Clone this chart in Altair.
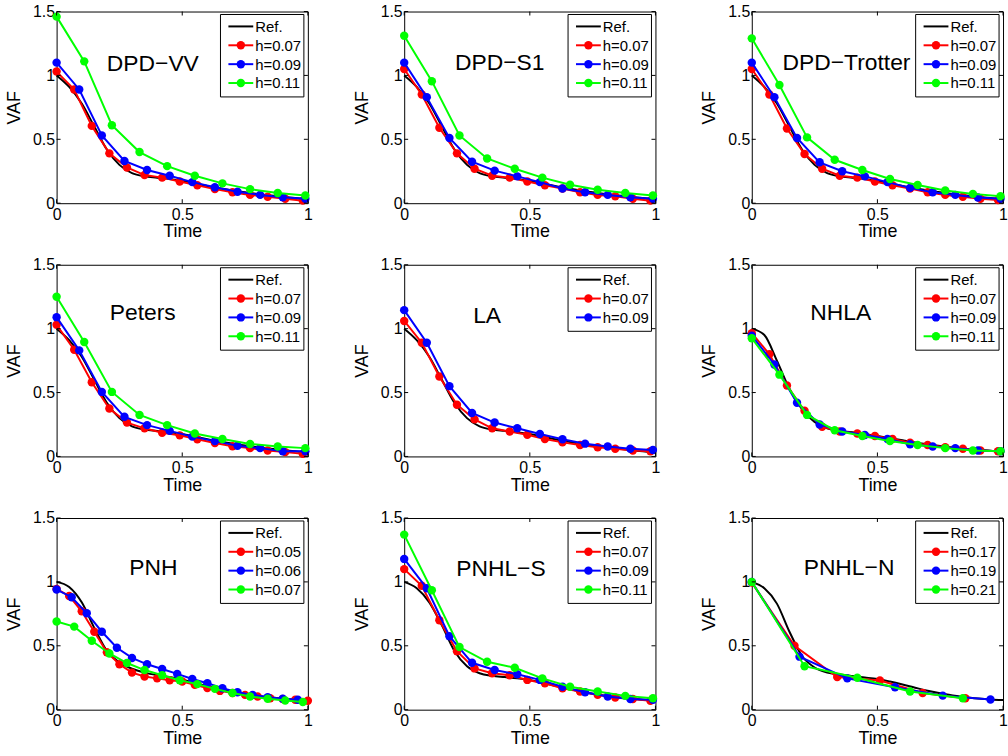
import altair as alt
import numpy as np
import pandas as pd

# ---------------- data ----------------
REF_STEP = 0.05
REF_DPD = [1.00, 0.91, 0.78, 0.60, 0.42, 0.30, 0.235, 0.21, 0.20, 0.19, 0.175,
           0.155, 0.135, 0.117, 0.10, 0.085, 0.072, 0.06, 0.05, 0.04, 0.03]
REF_NHLA = [1.00, 0.95, 0.75, 0.53, 0.37, 0.27, 0.22, 0.20, 0.19, 0.175, 0.16,
            0.143, 0.127, 0.11, 0.095, 0.082, 0.07, 0.06, 0.052, 0.045, 0.04]
REF_PNH = [1.00, 0.96, 0.84, 0.64, 0.46, 0.37, 0.32, 0.29, 0.27, 0.255, 0.235,
           0.21, 0.185, 0.162, 0.142, 0.125, 0.11, 0.097, 0.087, 0.078, 0.07]
REF_PNHLS = [1.00, 0.95, 0.84, 0.66, 0.46, 0.34, 0.285, 0.265, 0.255, 0.245, 0.232,
             0.21, 0.188, 0.165, 0.143, 0.125, 0.11, 0.097, 0.087, 0.078, 0.07]
REF_PNHLN = [1.00, 0.95, 0.83, 0.61, 0.42, 0.33, 0.29, 0.275, 0.263, 0.252, 0.24,
             0.22, 0.197, 0.172, 0.148, 0.128, 0.112, 0.098, 0.088, 0.08, 0.075]

DPDVV_R = [1.03, 0.89, 0.605, 0.39, 0.28, 0.22, 0.20, 0.17, 0.14, 0.11, 0.085, 0.065, 0.05, 0.035, 0.02]
DPDVV_B = [1.10, 0.89, 0.53, 0.33, 0.26, 0.215, 0.165, 0.125, 0.09, 0.065, 0.047, 0.035]
DPDVV_G = [1.46, 1.11, 0.61, 0.40, 0.29, 0.215, 0.155, 0.11, 0.08, 0.06]

DPDS1_R = [1.05, 0.85, 0.59, 0.39, 0.27, 0.215, 0.20, 0.17, 0.14, 0.115, 0.085, 0.065, 0.055, 0.035, 0.02]
DPDS1_B = [1.10, 0.83, 0.51, 0.325, 0.255, 0.21, 0.165, 0.115, 0.085, 0.065, 0.047, 0.035]
DPDS1_G = [1.31, 0.955, 0.53, 0.35, 0.27, 0.20, 0.145, 0.105, 0.08, 0.06]

DPDTR_R = [1.05, 0.85, 0.585, 0.385, 0.27, 0.215, 0.20, 0.17, 0.14, 0.115, 0.085, 0.065, 0.05, 0.035, 0.025]
DPDTR_B = [1.10, 0.83, 0.51, 0.32, 0.25, 0.21, 0.165, 0.12, 0.085, 0.065, 0.045, 0.035]
DPDTR_G = [1.29, 0.925, 0.515, 0.34, 0.26, 0.19, 0.143, 0.10, 0.073, 0.055]

PETERS_R = [1.03, 0.835, 0.58, 0.375, 0.265, 0.22, 0.185, 0.165, 0.135, 0.105, 0.08, 0.065, 0.047, 0.034, 0.02]
PETERS_B = [1.09, 0.83, 0.505, 0.31, 0.245, 0.20, 0.155, 0.12, 0.083, 0.065, 0.04, 0.04]
PETERS_G = [1.25, 0.895, 0.505, 0.325, 0.245, 0.18, 0.137, 0.098, 0.078, 0.065]

LA_R = [1.06, 0.89, 0.625, 0.405, 0.29, 0.22, 0.195, 0.17, 0.137, 0.11, 0.09, 0.072, 0.06, 0.047, 0.04]
LA_B = [1.145, 0.89, 0.55, 0.34, 0.265, 0.22, 0.175, 0.135, 0.10, 0.078, 0.06, 0.05]

NHLA_R = [0.965, 0.80, 0.555, 0.357, 0.233, 0.195, 0.18, 0.16, 0.137, 0.108, 0.09, 0.072, 0.06, 0.047, 0.04]
NHLA_B = [0.945, 0.72, 0.42, 0.25, 0.195, 0.168, 0.137, 0.095, 0.078, 0.065, 0.047, 0.04]
NHLA_G = [0.925, 0.64, 0.325, 0.205, 0.16, 0.12, 0.09, 0.065, 0.047, 0.04]

PNH_R = [0.945, 0.89, 0.77, 0.61, 0.45, 0.355, 0.29, 0.26, 0.245, 0.23, 0.22, 0.195, 0.17,
         0.147, 0.13, 0.116, 0.103, 0.09, 0.083, 0.078, 0.07]
PNH_B = [0.94, 0.88, 0.755, 0.61, 0.485, 0.405, 0.355, 0.318, 0.28, 0.24, 0.207, 0.168,
         0.137, 0.116, 0.098, 0.085, 0.078]
PNH_G = [0.69, 0.65, 0.54, 0.44, 0.365, 0.31, 0.27, 0.23, 0.20, 0.163, 0.13, 0.103, 0.085, 0.072, 0.06]

PNHLS_R = [1.10, 0.97, 0.70, 0.458, 0.323, 0.285, 0.27, 0.233, 0.207, 0.168, 0.142, 0.116, 0.096, 0.083, 0.07]
PNHLS_B = [1.18, 0.95, 0.575, 0.367, 0.31, 0.277, 0.233, 0.18, 0.137, 0.103, 0.083, 0.078]
PNHLS_G = [1.37, 0.935, 0.49, 0.375, 0.328, 0.245, 0.18, 0.142, 0.108, 0.09]

PNHLN_R = [0.995, 0.50, 0.255, 0.228, 0.13, 0.09]
PNHLN_B = [1.0, 0.415, 0.245, 0.175, 0.11, 0.08]
PNHLN_G = [1.0, 0.34, 0.25, 0.142, 0.09]

PANELS = [
    dict(name="DPD\u2212VV", steps=[0.07, 0.09, 0.11], series=[DPDVV_R, DPDVV_B, DPDVV_G], ref=REF_DPD, at=(0.383, 1.09)),
    dict(name="DPD\u2212S1", steps=[0.07, 0.09, 0.11], series=[DPDS1_R, DPDS1_B, DPDS1_G], ref=REF_DPD, at=(0.38, 1.10)),
    dict(name="DPD\u2212Trotter", steps=[0.07, 0.09, 0.11], series=[DPDTR_R, DPDTR_B, DPDTR_G], ref=REF_DPD, at=(0.377, 1.10)),
    dict(name="Peters", steps=[0.07, 0.09, 0.11], series=[PETERS_R, PETERS_B, PETERS_G], ref=REF_DPD, at=(0.343, 1.12)),
    dict(name="LA", steps=[0.07, 0.09], series=[LA_R, LA_B], ref=REF_DPD, at=(0.33, 1.10)),
    dict(name="NHLA", steps=[0.07, 0.09, 0.11], series=[NHLA_R, NHLA_B, NHLA_G], ref=REF_NHLA, at=(0.354, 1.12)),
    dict(name="PNH", steps=[0.05, 0.06, 0.07], series=[PNH_R, PNH_B, PNH_G], ref=REF_PNH, at=(0.385, 1.11)),
    dict(name="PNHL\u2212S", steps=[0.07, 0.09, 0.11], series=[PNHLS_R, PNHLS_B, PNHLS_G], ref=REF_PNHLS, at=(0.385, 1.10)),
    dict(name="PNHL\u2212N", steps=[0.17, 0.19, 0.21], series=[PNHLN_R, PNHLN_B, PNHLN_G], ref=REF_PNHLN, at=(0.387, 1.11)),
]

X_TICKS = [0, 0.5, 1]
Y_TICKS = [0, 0.5, 1, 1.5]
COLORS = ["#000000", "#ff0000", "#0000ff", "#00ff00"]

# ---------------- styling ----------------
FONT = "Liberation Sans"
W, H = 253, 193
TICK = 4
# legend box geometry (pixels inside the plot area)
LG_RIGHT, LG_TOP, LG_W, LG_ROW, LG_PAD = W - 4, 3, 84, 19, 2.5
SYM_X0, SYM_X1 = LG_RIGHT - 76, LG_RIGHT - 51
LAB_X = LG_RIGHT - 49


def panel(p):
    labels = ["h=%g" % h for h in p["steps"]]
    dom = ["Ref."] + labels
    rng = COLORS[:len(dom)]
    cscale = alt.Scale(domain=dom, range=rng)
    xs = alt.Scale(domain=[0, 1], nice=False, zero=False)
    ys = alt.Scale(domain=[0, 1.5], nice=False, zero=False)
    xaxis = alt.Axis(values=X_TICKS, format="~g", title="Time", ticks=False, grid=False, domain=False,
                     labelFlush=False, labelOverlap=False, labelPadding=3, titlePadding=1)
    yaxis = alt.Axis(values=Y_TICKS, format="~g", title="VAF", ticks=False, grid=False, domain=False,
                     labelOverlap=False, labelPadding=2, titlePadding=9)
    xenc = alt.X("t:Q", scale=xs, axis=xaxis)
    yenc = alt.Y("v:Q", scale=ys, axis=yaxis)
    cenc = alt.Color("series:N", scale=cscale, legend=None)

    layers = []
    ref_df = pd.DataFrame({"t": np.round(np.arange(len(p["ref"])) * REF_STEP, 4),
                           "v": p["ref"], "series": "Ref."})
    layers.append(alt.Chart(ref_df).mark_line(strokeWidth=2, interpolate="monotone", clip=False)
                  .encode(xenc, yenc, cenc))
    for lab, h, vals in zip(labels, p["steps"], p["series"]):
        df = pd.DataFrame({"t": np.round(np.arange(len(vals)) * h, 4), "v": vals, "series": lab})
        base = alt.Chart(df).encode(xenc, yenc, cenc)
        layers.append(base.mark_line(strokeWidth=2, clip=False))
        layers.append(base.mark_point(filled=True, size=72, opacity=1, strokeWidth=0, clip=False))

    # inward ticks on all four sides (MATLAB style)
    xt = pd.DataFrame({"t": X_TICKS})
    yt = pd.DataFrame({"v": Y_TICKS})
    rule = dict(color="black", strokeWidth=1)
    layers.append(alt.Chart(xt).mark_rule(**rule).encode(xenc, y=alt.value(H), y2=alt.value(H - TICK)))
    layers.append(alt.Chart(xt).mark_rule(**rule).encode(xenc, y=alt.value(0), y2=alt.value(TICK)))
    layers.append(alt.Chart(yt).mark_rule(**rule).encode(yenc, x=alt.value(0), x2=alt.value(TICK)))
    layers.append(alt.Chart(yt).mark_rule(**rule).encode(yenc, x=alt.value(W), x2=alt.value(W - TICK)))

    # method name
    tdf = pd.DataFrame({"t": [p["at"][0]], "v": [p["at"][1]], "label": [p["name"]]})
    layers.append(alt.Chart(tdf).mark_text(font=FONT, fontSize=23, color="black", align="center",
                                           baseline="middle")
                  .encode(xenc, yenc, text="label:N"))

    # legend (boxed, top right, inside the axes)
    n = len(dom)
    box_h = 2 * LG_PAD + 12 * 2 - 5 + LG_ROW * (n - 1) + 2
    ldf = pd.DataFrame({"series": dom})
    layers.append(alt.Chart(ldf.head(1)).mark_rect(fill="white", stroke="black", strokeWidth=1)
                  .encode(x=alt.value(LG_RIGHT - LG_W), x2=alt.value(LG_RIGHT),
                          y=alt.value(LG_TOP), y2=alt.value(LG_TOP + box_h)))
    for i, lab in enumerate(dom):
        yc = LG_TOP + 12 + LG_ROW * i
        one = pd.DataFrame({"series": [lab]})
        layers.append(alt.Chart(one).mark_rule(strokeWidth=2)
                      .encode(x=alt.value(SYM_X0), x2=alt.value(SYM_X1), y=alt.value(yc), color=cenc))
        if i > 0:
            layers.append(alt.Chart(one).mark_point(filled=True, size=72, opacity=1, strokeWidth=0)
                          .encode(x=alt.value((SYM_X0 + SYM_X1) / 2), y=alt.value(yc), color=cenc))
        layers.append(alt.Chart(one).mark_text(font=FONT, fontSize=15, color="black", align="left",
                                               baseline="middle")
                      .encode(x=alt.value(LAB_X), y=alt.value(yc + 0.5), text="series:N"))
    return alt.layer(*layers).properties(width=W, height=H)


rows = []
for r in range(3):
    rows.append(alt.hconcat(*[panel(PANELS[3 * r + c]) for c in range(3)], spacing=40)
                .resolve_scale(color="independent"))

chart = (alt.vconcat(*rows, spacing=14)
         .resolve_scale(color="independent")
         .properties(padding={"left": 5, "top": 0, "right": 0, "bottom": 0}, background="white")
         .configure_view(stroke="black", strokeWidth=1)
         .configure_axis(labelFont=FONT, titleFont=FONT, labelFontSize=16, titleFontSize=18,
                         labelColor="black", titleColor="black", titleFontWeight="normal"))

chart.save("out.html", embed_options={"renderer": "svg", "actions": False})
